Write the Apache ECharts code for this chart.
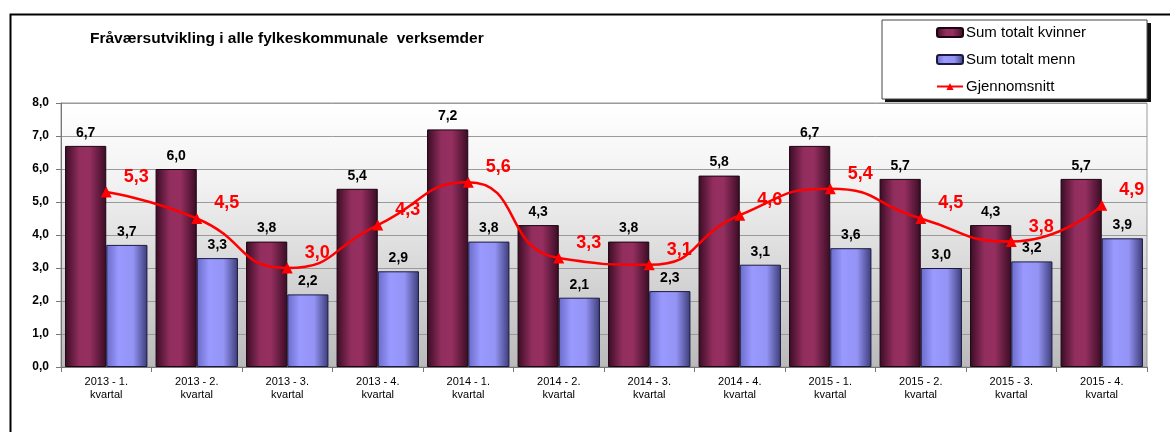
<!DOCTYPE html>
<html><head><meta charset="utf-8">
<script src="https://cdn.jsdelivr.net/npm/echarts@6/dist/echarts.min.js"></script>
<style>html,body{margin:0;padding:0;background:#fff}#c{width:1170px;height:432px}</style>
</head><body><div id="c"></div>
<script>
const categories = ["2013 - 1.\nkvartal","2013 - 2.\nkvartal","2013 - 3.\nkvartal","2013 - 4.\nkvartal","2014 - 1.\nkvartal","2014 - 2.\nkvartal","2014 - 3.\nkvartal","2014 - 4.\nkvartal","2015 - 1.\nkvartal","2015 - 2.\nkvartal","2015 - 3.\nkvartal","2015 - 4.\nkvartal"];
const kvinner = [6.7, 6.0, 3.8, 5.4, 7.2, 4.3, 3.8, 5.8, 6.7, 5.7, 4.3, 5.7];
const menn = [3.7, 3.3, 2.2, 2.9, 3.8, 2.1, 2.3, 3.1, 3.6, 3.0, 3.2, 3.9];
const snitt = [5.3, 4.5, 3.0, 4.3, 5.6, 3.3, 3.1, 4.6, 5.4, 4.5, 3.8, 4.9];
const yTicks = [0, 1, 2, 3, 4, 5, 6, 7, 8];

const fmt = v => Number(v).toFixed(1).replace('.', ',');
const FONT = '"Liberation Sans", Arial, sans-serif';
const G = echarts.graphic.LinearGradient;
const chart = echarts.init(document.getElementById('c'));
chart.setOption({
  animation: false,
  textStyle: { fontFamily: FONT },
  title: {
    text: 'Fråværsutvikling i alle fylkeskommunale  verksemder',
    left: 85, top: 26,
    textStyle: { fontFamily: FONT, fontSize: 15.5, fontWeight: 'bold', color: '#000' }
  },
  graphic: [{
    type: 'rect', left: 8, top: 12, z: -10, silent: true,
    shape: { width: 1300, height: 600 },
    style: { fill: 'none', stroke: '#000', lineWidth: 2 }
  }, {
    type: 'rect', left: 885, top: 23, z: -5, silent: true,
    shape: { width: 266, height: 79 },
    style: { fill: '#111' }
  }],
  legend: {
    orient: 'vertical', left: 882, top: 20,
    padding: [5, 61, 5, 54], itemGap: 12,
    itemWidth: 26, itemHeight: 9,
    backgroundColor: '#fff', borderColor: '#444', borderWidth: 1,
    textStyle: { fontFamily: FONT, fontSize: 15, color: '#000', padding: [0,0,0,-2] },
    data: ['Sum totalt kvinner', 'Sum totalt menn', 'Gjennomsnitt']
  },
  grid: {
    left: 61, right: 23, top: 103, bottom: 65, show: true,
    borderColor: '#999', borderWidth: 1,
    backgroundColor: new G(0, 0, 0, 1, [
      { offset: 0, color: '#ffffff' },
      { offset: 0.3, color: '#f2f2f2' },
      { offset: 1, color: '#bababa' }
    ])
  },
  xAxis: {
    type: 'category', data: categories,
    axisLine: { lineStyle: { color: '#777' } },
    axisTick: { show: true, length: 5, lineStyle: { color: '#777' } },
    axisLabel: { fontFamily: FONT, fontSize: 11, color: '#000', lineHeight: 13, margin: 8 }
  },
  yAxis: {
    type: 'value', min: yTicks[0], max: yTicks[yTicks.length - 1], interval: 1,
    axisLine: { show: true, lineStyle: { color: '#777' } },
    axisTick: { show: true, length: 5, lineStyle: { color: '#777' } },
    splitLine: { lineStyle: { color: '#9a9a9a' } },
    axisLabel: { fontFamily: FONT, fontSize: 12, fontWeight: 'bold', color: '#000', margin: 12, formatter: fmt }
  },
  series: [{
    name: 'Sum totalt kvinner', type: 'bar', data: kvinner,
    barGap: '0%', barCategoryGap: '9%',
    itemStyle: {
      borderColor: '#1a0510', borderWidth: 1,
      color: new G(0, 0, 1, 0, [
        { offset: 0, color: '#3a0c24' },
        { offset: 0.35, color: '#922e5e' },
        { offset: 0.6, color: '#952f60' },
        { offset: 1, color: '#3a0c24' }
      ])
    },
    label: { show: true, position: 'top', distance: 6, formatter: p => fmt(p.value),
      fontFamily: FONT, fontSize: 14, fontWeight: 'bold', color: '#000' }
  }, {
    name: 'Sum totalt menn', type: 'bar', data: menn,
    itemStyle: {
      borderColor: '#1a1a40', borderWidth: 1,
      color: new G(0, 0, 1, 0, [
        { offset: 0, color: '#6a6ac8' },
        { offset: 0.3, color: '#9999ff' },
        { offset: 0.65, color: '#9494f5' },
        { offset: 1, color: '#3c3c78' }
      ])
    },
    label: { show: true, position: 'top', distance: 6, formatter: p => fmt(p.value),
      fontFamily: FONT, fontSize: 14, fontWeight: 'bold', color: '#000' }
  }, {
    name: 'Gjennomsnitt', type: 'line', data: snitt, smooth: 0.55,
    symbol: 'triangle', symbolSize: 11,
    lineStyle: { color: '#ff0000', width: 2.5 },
    itemStyle: { color: '#ff0000' },
    label: { show: true, position: 'right', distance: 12, offset: [0, -15], formatter: p => fmt(p.value),
      fontFamily: FONT, fontSize: 18, fontWeight: 'bold', color: '#ff0000' },
    z: 5
  }]
});
</script></body></html>
